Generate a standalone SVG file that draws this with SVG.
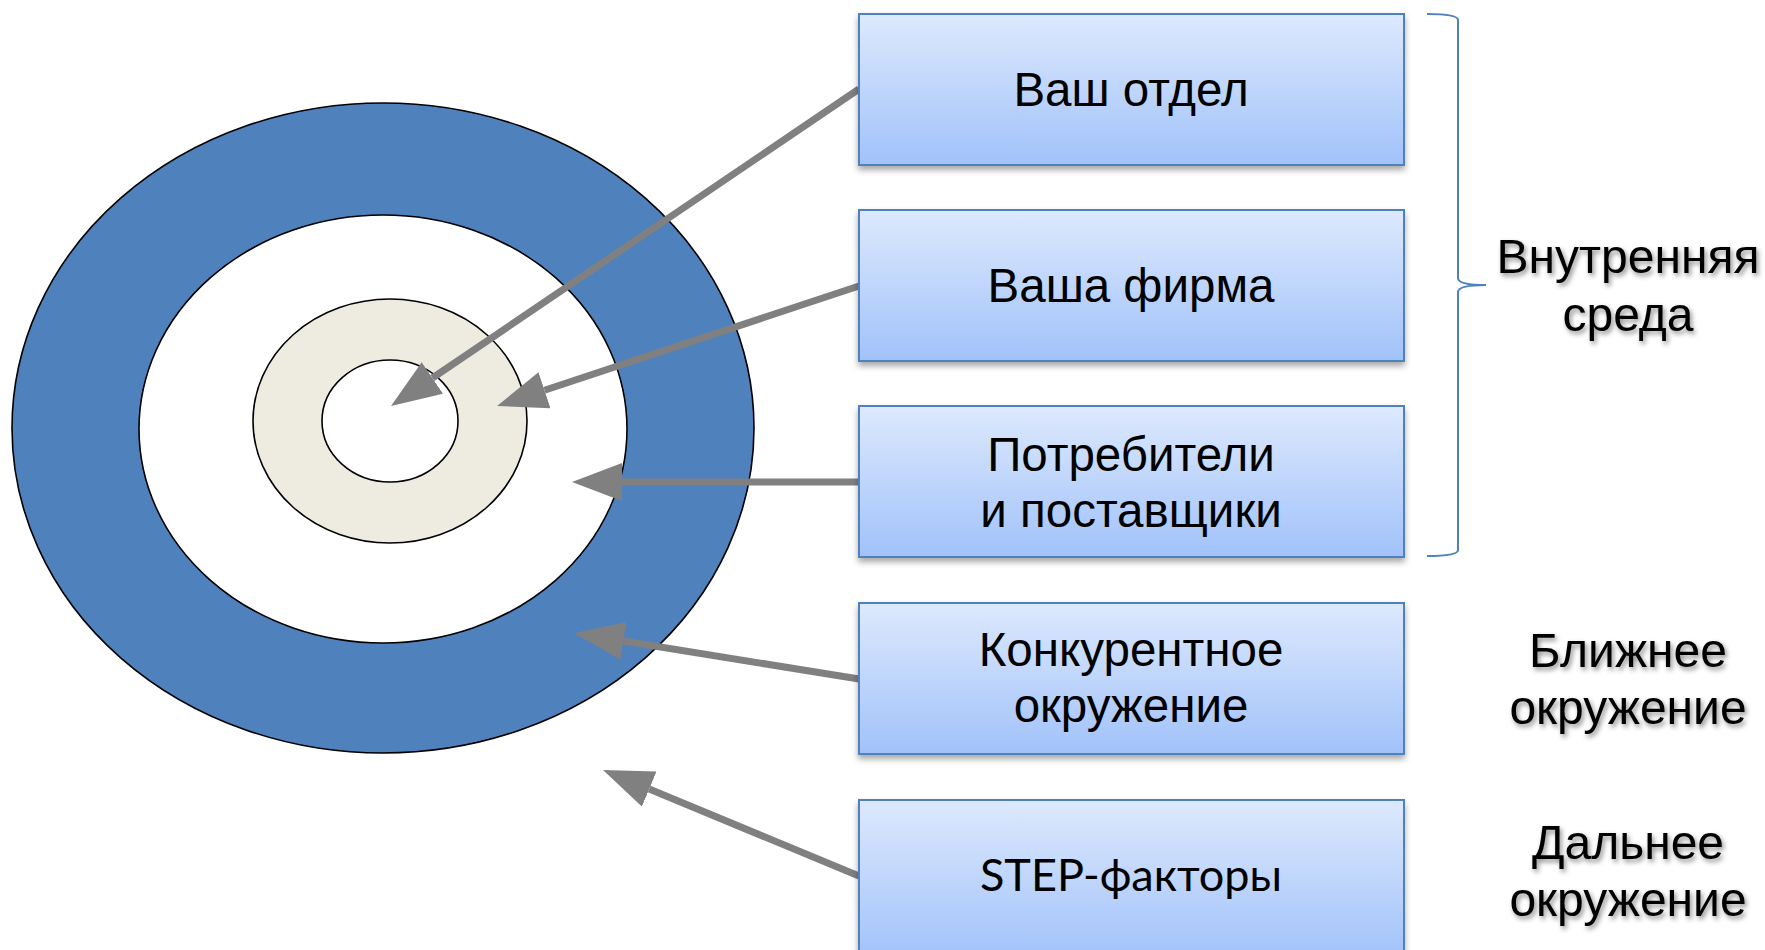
<svg xmlns="http://www.w3.org/2000/svg" width="1765" height="950" viewBox="0 0 1765 950">
<defs>
<linearGradient id="boxGrad" x1="0" y1="0" x2="0" y2="1">
<stop offset="0" stop-color="#DDE9FD"/>
<stop offset="1" stop-color="#A1C2FA"/>
</linearGradient>
<filter id="boxShadow" x="-5%" y="-10%" width="110%" height="125%">
<feDropShadow dx="0" dy="4" stdDeviation="3" flood-color="#000" flood-opacity="0.35"/>
</filter>
<filter id="textShadow" x="-10%" y="-20%" width="120%" height="150%">
<feDropShadow dx="2" dy="3" stdDeviation="2.5" flood-color="#000" flood-opacity="0.45"/>
</filter>
<marker id="arrowHead" markerUnits="userSpaceOnUse" markerWidth="50" markerHeight="38" refX="0" refY="19" orient="auto" viewBox="0 0 50 38">
<path d="M0,0 L50,19 L0,38 z" fill="#808080"/>
</marker>
</defs>
<style>
.box{fill:url(#boxGrad);stroke:#4F81BD;stroke-width:2;filter:url(#boxShadow)}
.bt{font-family:"Liberation Sans",Arial,sans-serif;font-size:47.5px;fill:#000;text-anchor:middle}
.bt2{font-family:Lato,"Open Sans",sans-serif;font-size:45px;fill:#000;text-anchor:middle}
.lbl{font-family:"Liberation Sans",Arial,sans-serif;font-size:48px;fill:#000;text-anchor:middle;filter:url(#textShadow)}
.ring{stroke:#000;stroke-width:1.6}
.arr{stroke:#808080;stroke-width:7;fill:none;marker-end:url(#arrowHead)}
</style>
<rect width="1765" height="950" fill="#fff"/>
<g id="target">
<ellipse class="ring" cx="383" cy="428" rx="371" ry="325" fill="#4F81BD"/>
<ellipse class="ring" cx="383" cy="429" rx="244" ry="214" fill="#fff"/>
<ellipse class="ring" cx="390" cy="421" rx="137" ry="122" fill="#EEECE1"/>
<ellipse class="ring" cx="390" cy="421" rx="68" ry="61" fill="#fff"/>
</g>
<g id="connectors">
<line class="arr" x1="859" y1="89" x2="432.4" y2="378"/>
<line class="arr" x1="859" y1="286" x2="544.5" y2="390.3"/>
<line class="arr" x1="859" y1="482" x2="622" y2="482"/>
<line class="arr" x1="859" y1="679" x2="623.4" y2="641"/>
<line class="arr" x1="859" y1="876" x2="649.2" y2="789.1"/>
</g>
<g id="node-otdel">
<rect class="box" x="859" y="14" width="545" height="151"/>
<text class="bt" x="1131" y="106">Ваш отдел</text>
</g>
<g id="node-firma">
<rect class="box" x="859" y="210" width="545" height="151"/>
<text class="bt" x="1131" y="302">Ваша фирма</text>
</g>
<g id="node-potr">
<rect class="box" x="859" y="406" width="545" height="151"/>
<text class="bt" x="1131" y="471">Потребители</text>
<text class="bt" x="1131" y="527">и поставщики</text>
</g>
<g id="node-konk">
<rect class="box" x="859" y="603" width="545" height="151"/>
<text class="bt" x="1131" y="666">Конкурентное</text>
<text class="bt" x="1131" y="722">окружение</text>
</g>
<g id="node-step">
<rect class="box" x="859" y="800" width="545" height="160"/>
<text class="bt2" x="1131" y="891">STEP-факторы</text>
</g>
<g id="brace">
<path d="M1427,14 Q1458,14 1458,20 L1458,278 Q1458,285 1486,285 Q1458,285 1458,292 L1458,550 Q1458,556 1427,556" fill="none" stroke="#4F81BD" stroke-width="2"/>
</g>
<g id="label-inner">
<text class="lbl" x="1628" y="273">Внутренняя</text>
<text class="lbl" x="1628" y="331">среда</text>
</g>
<g id="label-near">
<text class="lbl" x="1628" y="667">Ближнее</text>
<text class="lbl" x="1628" y="724">окружение</text>
</g>
<g id="label-far">
<text class="lbl" x="1628" y="859">Дальнее</text>
<text class="lbl" x="1628" y="916">окружение</text>
</g>
</svg>
